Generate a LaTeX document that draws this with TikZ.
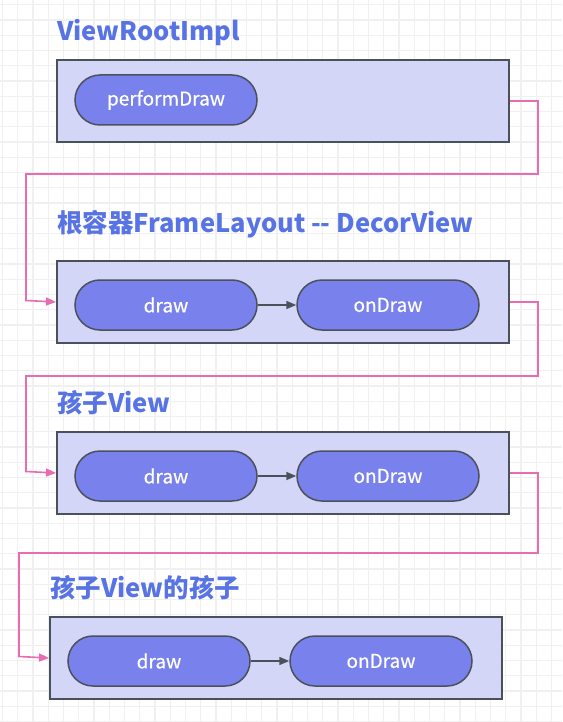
\documentclass[tikz,border=0pt]{standalone}
\usepackage{fontspec}
\setmainfont{Noto Sans CJK SC}
\newfontfamily\pillfont{Noto Sans CJK SC}[FakeBold=0.5]
\usetikzlibrary{arrows.meta}

\definecolor{titleblue}{HTML}{5874E4}
\definecolor{boxfill}{HTML}{D3D6F7}
\definecolor{boxline}{HTML}{4B515B}
\definecolor{pillfill}{HTML}{7982EC}
\definecolor{linkpink}{HTML}{E96BB0}
\definecolor{gridgray}{HTML}{F0F0F0}

\tikzset{
  container/.style={draw=boxline,fill=boxfill,line width=2pt,minimum width=452pt,minimum height=82pt,anchor=north west,inner sep=0pt},
  pill/.style={draw=boxline,fill=pillfill,line width=1.5pt,rounded corners=25pt,minimum width=182pt,minimum height=50pt,text=white,font=\pillfont\fontsize{19}{22}\selectfont,inner sep=0pt},
  heading/.style={anchor=base west,text=titleblue,font=\fontsize{25.5}{30}\selectfont\bfseries,inner sep=0pt},
  link/.style={draw=linkpink,line width=1.6pt,-{Triangle[length=10pt,width=8pt]}},
  step arrow/.style={draw=boxline,line width=1.5pt,-{Triangle[length=10pt,width=8pt]}}
}

\begin{document}
\begin{tikzpicture}[x=1pt,y=-1pt]
    \useasboundingbox (0,0) rectangle (562,722);
    \fill[white] (0,0) rectangle (562,722);
    % background grid
    \foreach \i in {0,...,36} \draw[gridgray,line width=1.2pt] ({2.5+15.25*\i},0) -- ({2.5+15.25*\i},722);
    \foreach \j in {0,...,47} \draw[gridgray,line width=1.2pt] (0,{4.7+15.25*\j}) -- (562,{4.7+15.25*\j});

    % ViewRootImpl
    \node[heading] (titleRoot) at (57,41) {ViewRootImpl};
    \node[container] (boxRoot) at (56,59) {};
    \node[pill] (performDraw) at (166,100) {performDraw};

    % DecorView
    \node[heading] (titleDecor) at (57,232) {根容器FrameLayout -{}- DecorView};
    \node[container] (boxDecor) at (56,260) {};
    \node[pill] (decorDraw) at (166,305) {draw};
    \node[pill] (decorOnDraw) at (388,305) {onDraw};
    \path[step arrow] (decorDraw) -- (decorOnDraw);

    % child view
    \node[heading] (titleChild) at (57,412) {孩子View};
    \node[container] (boxChild) at (56,431) {};
    \node[pill] (childDraw) at (166,476) {draw};
    \node[pill] (childOnDraw) at (388,476) {onDraw};
    \path[step arrow] (childDraw) -- (childOnDraw);

    % child of child view
    \node[heading] (titleGrand) at (50,597) {孩子View的孩子};
    \node[container] (boxGrand) at (49,616) {};
    \node[pill] (grandDraw) at (159,661) {draw};
    \node[pill] (grandOnDraw) at (381,661) {onDraw};
    \path[step arrow] (grandDraw) -- (grandOnDraw);

    % turning points of the links
    \coordinate (turnA) at (538,174);
    \coordinate (turnB) at (538,376);
    \coordinate (turnC) at (538,553);
    \coordinate (dropA) at (26,300.5);
    \coordinate (dropB) at (26,471.5);
    \coordinate (dropC) at (19,656.5);
    \path[link] (boxRoot.east) -| (turnA) -| (dropA) -- (boxDecor.west);
    \path[link] (boxDecor.east) -| (turnB) -| (dropB) -- (boxChild.west);
    \path[link] (boxChild.east) -| (turnC) -| (dropC) -- (boxGrand.west);
\end{tikzpicture}
\end{document}
